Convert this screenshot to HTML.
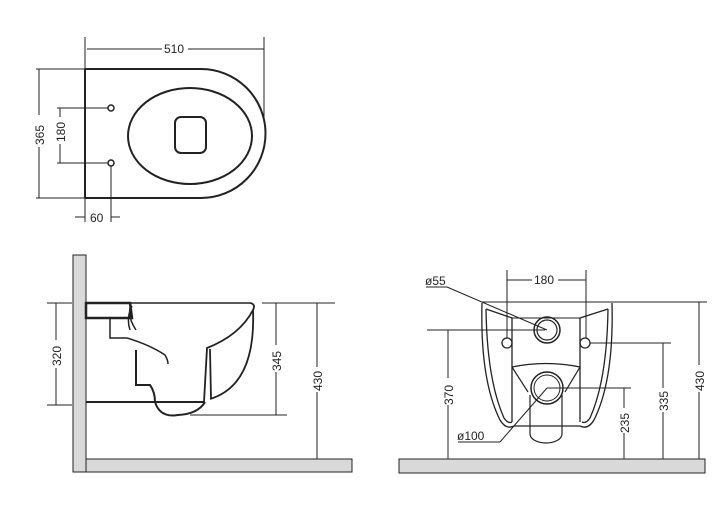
<!DOCTYPE html>
<html><head><meta charset="utf-8"><style>
html,body{margin:0;padding:0;background:#fff;width:725px;height:522px;overflow:hidden}
svg{display:block}
text{font-family:"Liberation Sans",sans-serif;font-size:12px;fill:#222}
</style></head><body>
<svg width="725" height="522" viewBox="0 0 725 522" xmlns="http://www.w3.org/2000/svg">
<g stroke="#222" fill="none" stroke-width="1">
<!-- TOP VIEW -->
<line x1="85" y1="37" x2="85" y2="222"/>
<line x1="264" y1="37" x2="264" y2="122"/>
<line x1="87" y1="49" x2="162" y2="49"/><line x1="188" y1="49" x2="264" y2="49"/>
<path d="M85 69 H201 A64.5 64.5 0 0 1 201 198 H85" stroke-width="2"/>
<line x1="85" y1="69" x2="85" y2="198" stroke-width="2"/>
<ellipse cx="190" cy="136" rx="62" ry="48" stroke-width="2"/>
<rect x="175" y="117" width="31" height="36" rx="6" stroke-width="2"/>
<circle cx="111" cy="108" r="3" stroke-width="1.5"/>
<circle cx="111" cy="163" r="3" stroke-width="1.5"/>
<line x1="36" y1="69" x2="85" y2="69"/><line x1="36" y1="198" x2="85" y2="198"/>
<line x1="39" y1="69" x2="39" y2="115"/><line x1="39" y1="147" x2="39" y2="198"/>
<line x1="57" y1="108" x2="108" y2="108"/><line x1="57" y1="163" x2="108" y2="163"/>
<line x1="60" y1="108" x2="60" y2="117"/><line x1="60" y1="144" x2="60" y2="163"/>
<line x1="111" y1="166" x2="111" y2="222"/>
<line x1="75" y1="217" x2="85" y2="217"/><line x1="111" y1="217" x2="120" y2="217"/>
</g>
<text x="164" y="53">510</text>
<text transform="translate(44,145) rotate(-90)">365</text>
<text transform="translate(65,142) rotate(-90)">180</text>
<text x="90" y="222">60</text>

<!-- SIDE VIEW -->
<g stroke="#222" fill="none" stroke-width="1">
<rect x="73" y="255" width="13" height="217" fill="#d9d9d9"/>
<rect x="86" y="459" width="266" height="13" fill="#d9d9d9"/>
<line x1="86" y1="303" x2="250" y2="303" stroke-width="1.5"/>
<path d="M86 303 H130 L132 318 H86 Z" stroke-width="2.5"/>
<path d="M130 308 Q128 318 136 330 M132 306 Q126 318 130 330" stroke-width="1.5"/>
<path d="M110 318 V338 H127 M127 338 Q150 345 165 355 Q168 360 168 364" stroke-width="1.5"/>
<path d="M136 350 V385 H150 Q155 392 155 402 Q160 418 178 415 Q198 414 205 402" stroke-width="2"/>
<line x1="86" y1="402" x2="205" y2="402" stroke-width="2"/>
<path d="M250 303 Q256 304 253 310 Q240 335 207 348 L204 402 M210 349 L211 399 M253 310 Q256 385 210 399" stroke-width="1.8"/>
<line x1="47" y1="303" x2="72" y2="303"/><line x1="47" y1="405" x2="72" y2="405"/>
<line x1="56" y1="303" x2="56" y2="340"/><line x1="56" y1="368" x2="56" y2="405"/>
<line x1="262" y1="303" x2="335" y2="303"/>
<line x1="190" y1="415" x2="287" y2="415"/>
<line x1="276" y1="303" x2="276" y2="345"/><line x1="276" y1="372" x2="276" y2="415"/>
<line x1="317" y1="303" x2="317" y2="367"/><line x1="317" y1="392" x2="317" y2="459"/>
</g>
<text transform="translate(61,366) rotate(-90)">320</text>
<text transform="translate(281,371) rotate(-90)">345</text>
<text transform="translate(322,391) rotate(-90)">430</text>

<!-- FRONT VIEW -->
<g stroke="#222" fill="none" stroke-width="1">
<rect x="399" y="459" width="306" height="14" fill="#d9d9d9"/>
<line x1="482" y1="302" x2="707" y2="302"/>
<line x1="507" y1="270" x2="507" y2="338"/><line x1="586" y1="270" x2="586" y2="338"/>
<line x1="507" y1="280" x2="532" y2="280"/><line x1="558" y1="280" x2="586" y2="280"/>
<path d="M482 303 Q480 380 500 420 Q506 430 514 426 L580 426 Q588 430 594 420 Q614 380 612 303" stroke-width="1.3"/>
<path d="M486 309 Q487 380 504 418 Q508 424 512 422 M608 309 Q607 380 590 418 Q586 424 582 422 M486 309 L512 318 V422 M608 309 L580 318 V422" stroke-width="1.3"/>
<line x1="512" y1="318" x2="580" y2="318"/>
<path d="M512 367 Q546 360 580 367 L565 392 M512 367 L528 392" stroke-width="1.2"/>
<path d="M530 395 V434 A16 9 0 0 0 562 434 V395" stroke-width="1.2"/>
<circle cx="547" cy="330" r="13" stroke-width="1.5"/><circle cx="547" cy="330" r="10" stroke-width="1.2"/>
<circle cx="547" cy="388" r="16" stroke-width="1.5"/><circle cx="547" cy="388" r="13" stroke-width="1"/>
<circle cx="507" cy="343" r="5" stroke-width="1.3"/><circle cx="585" cy="343" r="5" stroke-width="1.3"/>
<line x1="426" y1="287" x2="447" y2="287"/><line x1="447" y1="287" x2="547" y2="330"/>
<line x1="458" y1="442" x2="500" y2="442"/><line x1="500" y1="442" x2="547" y2="388"/>
<line x1="427" y1="330" x2="545" y2="330"/>
<line x1="448" y1="330" x2="448" y2="378"/><line x1="448" y1="405" x2="448" y2="459"/>
<line x1="590" y1="343" x2="671" y2="343"/>
<line x1="663" y1="343" x2="663" y2="388"/><line x1="663" y1="412" x2="663" y2="459"/>
<line x1="547" y1="388" x2="631" y2="388"/>
<line x1="624" y1="388" x2="624" y2="408"/><line x1="624" y1="433" x2="624" y2="459"/>
<line x1="699" y1="302" x2="699" y2="365"/><line x1="699" y1="392" x2="699" y2="459"/>
</g>
<text x="534" y="284">180</text>
<text x="425" y="285">ø55</text>
<text x="457" y="440">ø100</text>
<text transform="translate(453,405) rotate(-90)">370</text>
<text transform="translate(668,411) rotate(-90)">335</text>
<text transform="translate(629,433) rotate(-90)">235</text>
<text transform="translate(704,391) rotate(-90)">430</text>
</svg>
</body></html>
